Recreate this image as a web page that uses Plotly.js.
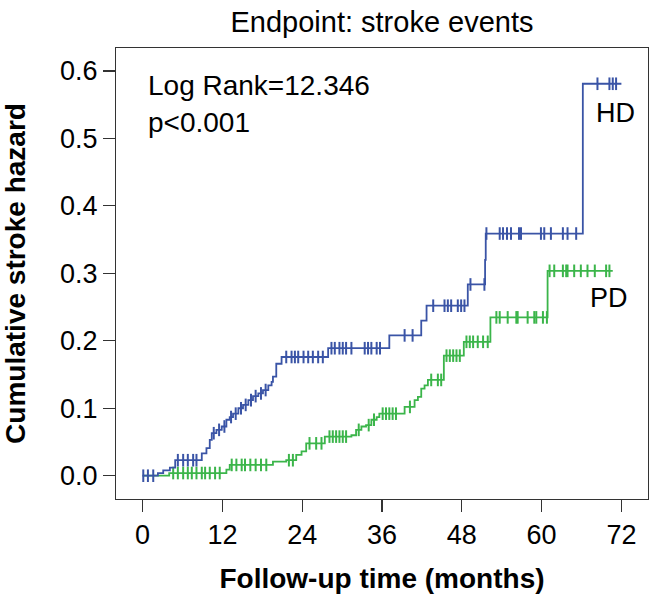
<!DOCTYPE html>
<html>
<head>
<meta charset="utf-8">
<script src="https://cdn.plot.ly/plotly-3.0.1.min.js"></script>
<style>html,body{margin:0;padding:0;background:#fff;}</style>
</head>
<body>
<div id="chart" style="width:660px;height:599px;"></div>
<script>
// ---- Data ----
const xTickVals = [0, 12, 24, 36, 48, 60, 72];
const yTickVals = [0.0, 0.1, 0.2, 0.3, 0.4, 0.5, 0.6];

// HD: event times (months) and cumulative hazard after each step
const hdTime = [0, 2.3, 3.1, 4.1, 4.9, 8.9, 9.6, 10.1, 10.4, 11.1, 11.9, 12.6, 13.1, 13.6, 14.4, 15.1, 15.9, 16.6, 17.4, 18.1, 18.9, 19.4, 19.6, 20.1, 20.9, 27.9, 37.1, 41.9, 42.7, 48.9, 51.5, 51.6, 66.2, 72.0];
const hdHazard = [0, 0.004, 0.008, 0.012, 0.023, 0.033, 0.041, 0.053, 0.063, 0.068, 0.073, 0.083, 0.087, 0.092, 0.100, 0.105, 0.112, 0.118, 0.122, 0.127, 0.134, 0.139, 0.147, 0.166, 0.176, 0.189, 0.208, 0.230, 0.252, 0.2835, 0.320, 0.359, 0.581, 0.581];
// HD censored observations
const hdCensorTime = [0.1, 0.8, 1.6, 5.3, 6.1, 6.8, 7.6, 8.1, 10.7, 11.5, 12.3, 13.3, 14.0, 14.8, 15.5, 16.3, 17.0, 17.8, 18.5, 21.6, 22.4, 22.9, 23.4, 24.2, 24.9, 25.6, 26.4, 27.1, 28.4, 28.9, 29.6, 30.1, 30.6, 31.4, 33.4, 33.9, 34.4, 35.2, 35.7, 39.4, 40.6, 43.7, 45.4, 45.9, 46.4, 47.4, 47.9, 48.4, 49.3, 51.4, 51.7, 53.7, 54.2, 54.8, 55.4, 56.6, 56.9, 59.9, 60.4, 61.4, 63.2, 63.9, 65.2, 68.4, 70.2, 70.7, 71.2];
const hdCensorHazard = [0, 0, 0, 0.023, 0.023, 0.023, 0.023, 0.023, 0.063, 0.068, 0.073, 0.087, 0.092, 0.100, 0.105, 0.112, 0.118, 0.122, 0.127, 0.176, 0.176, 0.176, 0.176, 0.176, 0.176, 0.176, 0.176, 0.176, 0.189, 0.189, 0.189, 0.189, 0.189, 0.189, 0.189, 0.189, 0.189, 0.189, 0.189, 0.208, 0.208, 0.252, 0.252, 0.252, 0.252, 0.252, 0.252, 0.252, 0.2835, 0.2835, 0.359, 0.359, 0.359, 0.359, 0.359, 0.359, 0.359, 0.359, 0.359, 0.359, 0.359, 0.359, 0.359, 0.581, 0.581, 0.581, 0.581];

// PD: event times (months) and cumulative hazard after each step
const pdTime = [0, 4.0, 12.6, 13.1, 19.6, 21.6, 23.1, 23.9, 24.6, 27.4, 31.4, 32.1, 32.9, 33.6, 34.4, 35.2, 35.6, 39.4, 40.9, 41.4, 41.9, 42.4, 42.9, 45.3, 48.3, 52.3, 60.9, 70.7];
const pdHazard = [0, 0.004, 0.009, 0.016, 0.021, 0.023, 0.031, 0.036, 0.048, 0.058, 0.060, 0.068, 0.073, 0.075, 0.083, 0.087, 0.092, 0.102, 0.112, 0.117, 0.129, 0.134, 0.142, 0.178, 0.1985, 0.2347, 0.3037, 0.3037];
// PD censored observations
const pdCensorTime = [4.6, 5.3, 6.1, 6.8, 7.4, 8.1, 8.9, 9.4, 10.1, 10.9, 11.6, 13.4, 14.1, 14.9, 15.4, 16.2, 17.0, 17.8, 18.6, 22.0, 22.6, 25.1, 26.1, 26.9, 28.1, 28.6, 29.1, 29.6, 30.1, 30.6, 32.5, 34.0, 34.8, 36.1, 36.6, 37.1, 37.6, 38.1, 40.2, 43.4, 44.4, 44.9, 45.7, 46.2, 46.7, 47.2, 47.7, 48.7, 49.2, 49.7, 50.4, 51.2, 51.9, 53.2, 53.7, 54.9, 56.2, 56.4, 57.9, 58.9, 59.2, 60.2, 60.8, 61.2, 61.9, 63.2, 63.7, 63.9, 64.9, 65.9, 66.9, 68.0, 69.7, 70.2];
const pdCensorHazard = [0.004, 0.004, 0.004, 0.004, 0.004, 0.004, 0.004, 0.004, 0.004, 0.004, 0.004, 0.016, 0.016, 0.016, 0.016, 0.016, 0.016, 0.016, 0.016, 0.023, 0.023, 0.048, 0.048, 0.048, 0.058, 0.058, 0.058, 0.058, 0.058, 0.058, 0.068, 0.075, 0.083, 0.092, 0.092, 0.092, 0.092, 0.092, 0.102, 0.142, 0.142, 0.142, 0.178, 0.178, 0.178, 0.178, 0.178, 0.1985, 0.1985, 0.1985, 0.1985, 0.1985, 0.1985, 0.2347, 0.2347, 0.2347, 0.2347, 0.2347, 0.2347, 0.2347, 0.2347, 0.2347, 0.2347, 0.3037, 0.3037, 0.3037, 0.3037, 0.3037, 0.3037, 0.3037, 0.3037, 0.3037, 0.3037, 0.3037];

const groupNames = ["HD", "PD"];
const chartTitle = "Endpoint: stroke events";
const xTitle = "Follow-up time (months)";
const yTitle = "Cumulative stroke hazard";
const statLines = ["Log Rank=12.346", "p<0.001"];

// ---- Styles ----
const HD_COLOR = "#3a54a6";
const PD_COLOR = "#3bb54a";
const FONT = "Liberation Sans, Arial, sans-serif";

function stepTrace(x, y, color) {
  return {x: x, y: y, type: "scatter", mode: "lines", line: {shape: "hv", color: color, width: 1.8}, hoverinfo: "skip", showlegend: false};
}
function censorTrace(x, y, color) {
  return {x: x, y: y, type: "scatter", mode: "markers",
    marker: {symbol: "line-ns-open", size: 9, color: color, line: {color: color, width: 2}},
    hoverinfo: "skip", showlegend: false};
}

const data = [
  stepTrace(pdTime, pdHazard, PD_COLOR),
  censorTrace(pdCensorTime, pdCensorHazard, PD_COLOR),
  stepTrace(hdTime, hdHazard, HD_COLOR),
  censorTrace(hdCensorTime, hdCensorHazard, HD_COLOR)
];

const layout = {
  width: 660, height: 599,
  margin: {l: 116, r: 12, t: 48, b: 100},
  paper_bgcolor: "#fff", plot_bgcolor: "#fff",
  font: {family: FONT, color: "#000"},
  title: {text: chartTitle, font: {family: FONT, size: 29, color: "#000"}, x: 0.5, xref: "paper", xanchor: "center", y: 1 - 22/599, yref: "container", yanchor: "middle"},
  xaxis: {
    range: [-4, 76], tickvals: xTickVals, ticktext: xTickVals.map(String),
    showgrid: false, zeroline: false, showline: true, mirror: true, linecolor: "#333", linewidth: 1,
    ticks: "outside", ticklen: 12, tickwidth: 1.2, tickcolor: "#333",
    tickfont: {family: FONT, size: 27, color: "#000"},
    title: {text: xTitle, font: {family: FONT, size: 28, color: "#000", weight: "bold"}, standoff: 18}
  },
  yaxis: {
    range: [-0.0345, 0.634], tickvals: yTickVals, ticktext: yTickVals.map(v => v.toFixed(1)),
    showgrid: false, zeroline: false, showline: true, mirror: true, linecolor: "#333", linewidth: 1,
    ticks: "outside", ticklen: 12, tickwidth: 1.2, tickcolor: "#333",
    tickfont: {family: FONT, size: 27, color: "#000"},
    title: {text: yTitle, font: {family: FONT, size: 28, color: "#000", weight: "bold"}, standoff: 26}
  },
  annotations: [
    {text: statLines[0], xref: "paper", yref: "paper", x: (146 - 116) / 532, y: (499 - 85) / 451, xanchor: "left", yanchor: "middle", showarrow: false, font: {family: FONT, size: 28, color: "#000"}},
    {text: statLines[1], xref: "paper", yref: "paper", x: (146 - 116) / 532, y: (499 - 123) / 451, xanchor: "left", yanchor: "middle", showarrow: false, font: {family: FONT, size: 28, color: "#000"}},
    {text: groupNames[0], xref: "paper", yref: "paper", x: (615.5 - 116) / 532, y: (499 - 112.5) / 451, xanchor: "center", yanchor: "middle", showarrow: false, font: {family: FONT, size: 27, color: "#000"}},
    {text: groupNames[1], xref: "paper", yref: "paper", x: (609 - 116) / 532, y: (499 - 297.5) / 451, xanchor: "center", yanchor: "middle", showarrow: false, font: {family: FONT, size: 27, color: "#000"}}
  ]
};

Plotly.newPlot("chart", data, layout, {displayModeBar: false, staticPlot: true});
</script>
</body>
</html>
